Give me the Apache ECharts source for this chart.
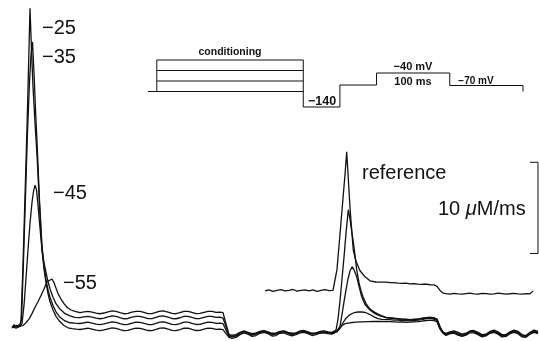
<!DOCTYPE html>
<html>
<head>
<meta charset="utf-8">
<script src="https://cdn.jsdelivr.net/npm/echarts/dist/echarts.min.js"></script>
<style>
  html, body { margin: 0; padding: 0; background: #fff; }
  #chart { width: 539px; height: 341px; }
</style>
</head>
<body>
<div id="chart"></div>
<script>
// Ca2+ release flux (µM/ms) vs time (ms). Time 0 = start of the conditioning pulse.

// ---- conditioning-pulse traces: rise and peak, [ms, µM/ms] ----
const onset25 = [[-8,0.0],[-6,0.4],[-4,0.1],[-2,0.3],[0,0.3],[1,0.8],[3,7],[5,14.5],[7,22],[8.5,28.5],[10,35.1],[11.5,30.5],[13,26.5],[15,22.5],[17,19],[19.5,13.5],[22,8.6],[24,6.5],[26,5.0],[28,3.8],[30,2.9],[33,2.0],[36,1.3],[40,0.7],[44,0.3],[48,0.05],[52,-0.05],[56,-0.1]];
const onset35 = [[-8,0.1],[-6,0.3],[-4,0.2],[-2,0.2],[0,0.4],[1.5,1.0],[3.5,7.5],[5.5,14.5],[7.5,21.5],[9.5,27],[11,30],[12.5,31.4],[14,28],[15.5,24],[17,20.5],[19.5,14],[22,9],[24,6.8],[26,5.3],[28,4.2],[30,3.4],[33,2.5],[36,1.8],[40,1.2],[45,0.8],[50,0.6],[55,0.55]];
const onset45 = [[-8,0.2],[-6,0.3],[-4,0.0],[-2,0.2],[0,0.2],[2,0.5],[4,2.5],[6,5.5],[8,8.6],[10,11.5],[12,13.8],[13.5,15.0],[15,15.7],[16.5,15.2],[18,13.5],[20,11],[22,8.6],[24,7.2],[27,5.6],[30,4.3],[33,3.4],[36,2.7],[40,2.1],[45,1.6],[50,1.35],[55,1.2]];
const onset55 = [[-8,0.1],[-6,0.2],[-4,0.3],[-2,0.1],[0,0.2],[3,0.3],[6,0.6],[9,1.0],[12,1.6],[15,2.3],[18,2.9],[21,3.6],[24,4.3],[27,5.1],[29,5.3],[32,5.4],[34,5.0],[36,4.4],[38,3.8],[41,3.2],[44,2.7],[47,2.3],[51,2.0],[55,1.85]];

// ---- steady level during the conditioning pulse ----
const plateauTimes = [60,64,68,72,76,80,84,88,92,96,100,104,108,112,116,120,124,128,132,136,140,144,148,152,156,160,164,168,172,176,180,184,188,192,196,200];
const plateau25 = [-0.14,-0.06,0.0,-0.09,-0.2,-0.27,-0.19,-0.06,0.04,-0.02,-0.15,-0.27,-0.24,-0.1,0.0,-0.02,-0.12,-0.25,-0.26,-0.13,0.02,0.03,-0.1,-0.24,-0.27,-0.16,0.0,0.0,-0.13,-0.25,-0.24,-0.11,0.0,-0.02,-0.12,-0.09];
const plateau35 = [0.52,0.6,0.66,0.57,0.46,0.39,0.47,0.6,0.70,0.64,0.51,0.39,0.42,0.56,0.66,0.64,0.54,0.41,0.40,0.53,0.68,0.69,0.56,0.42,0.39,0.5,0.66,0.66,0.53,0.41,0.42,0.55,0.66,0.64,0.54,0.57];
const plateau45 = [1.17,1.25,1.31,1.22,1.11,1.04,1.12,1.25,1.35,1.29,1.16,1.04,1.07,1.21,1.31,1.29,1.19,1.06,1.05,1.18,1.33,1.34,1.21,1.07,1.04,1.15,1.31,1.31,1.18,1.06,1.07,1.2,1.31,1.29,1.19,1.22];
const plateau55 = [1.72,1.8,1.86,1.77,1.66,1.59,1.67,1.8,1.90,1.84,1.71,1.59,1.62,1.76,1.86,1.84,1.74,1.61,1.60,1.73,1.88,1.89,1.76,1.62,1.59,1.70,1.86,1.86,1.73,1.61,1.62,1.75,1.86,1.84,1.74,1.77];

// ---- end of conditioning pulse ----
const off25 = [[203,-0.15],[206,-0.6],[209,-1.0]];
const off35 = [[203,0.5],[206,-0.2],[209,-0.9]];
const off45 = [[203,1.1],[206,0.2],[209,-0.8]];
const off55 = [[203,1.7],[206,0.5],[209,-0.7]];

// ---- interval between conditioning and test pulses ----
const gapTimes = [212,216,220,224,228,232,236,240,244,248,252,256,260,264,268,272,276,280,284,288,292,296,300,304,308,312];
const gap25 = [-1.1,-1.0,-0.7,-0.5,-0.65,-0.9,-0.8,-0.55,-0.45,-0.6,-0.85,-0.8,-0.55,-0.5,-0.7,-0.85,-0.7,-0.5,-0.45,-0.6,-0.8,-0.7,-0.55,-0.5,-0.6,-0.65];
const gap35 = [-0.95,-0.85,-0.55,-0.4,-0.55,-0.75,-0.65,-0.45,-0.35,-0.5,-0.7,-0.65,-0.45,-0.4,-0.55,-0.7,-0.6,-0.4,-0.35,-0.5,-0.65,-0.6,-0.45,-0.4,-0.5,-0.55];
const gap45 = [-0.85,-0.8,-0.5,-0.35,-0.5,-0.7,-0.6,-0.4,-0.3,-0.45,-0.65,-0.6,-0.4,-0.35,-0.5,-0.65,-0.55,-0.35,-0.3,-0.45,-0.6,-0.55,-0.4,-0.35,-0.45,-0.5];
const gap55 = [-0.75,-0.7,-0.45,-0.3,-0.45,-0.6,-0.5,-0.35,-0.25,-0.4,-0.55,-0.5,-0.35,-0.3,-0.45,-0.55,-0.5,-0.3,-0.25,-0.4,-0.55,-0.5,-0.35,-0.3,-0.4,-0.45];

// ---- release during the -40 mV test pulse ----
const test25 = [[314,-0.5],[316,-0.4],[319,-0.1],[322,0.3],[325,0.5],[330,0.6],[336,0.66],[342,0.7],[348,0.72],[354,0.74],[360,0.74],[366,0.73]];
const test35 = [[314,-0.5],[317,-0.4],[320,0.0],[323,0.6],[326,1.1],[330,1.5],[334,1.7],[338,1.78],[342,1.78],[346,1.7],[350,1.5],[354,1.25],[358,1.05],[362,0.98],[366,0.95]];
const test45 = [[314,-0.45],[317,-0.3],[320,0.2],[322,1.5],[324,2.9],[326,4.2],[328,5.4],[330,6.3],[332.3,6.75],[334,6.4],[336.7,5.65],[339,4.6],[341.7,3.45],[345,2.6],[350,2.0],[355,1.6],[360,1.35],[366,1.15]];
const test55 = [[314,-0.4],[316,-0.2],[318,1.0],[320,3.0],[322,5.4],[324,7.8],[326,10.4],[328.3,13.0],[330,12.0],[331.5,10.8],[333,9.7],[335,8.0],[336.7,6.4],[339,5.0],[341,4.1],[343,3.45],[346,2.7],[350,2.1],[354,1.8],[358,1.55],[362,1.35],[366,1.2]];

const testPlateauTimes = [370,374,378,382,386,390,394,398,402,406,410,414];
const testPlateau25 = [0.72,0.7,0.68,0.7,0.65,0.66,0.7,0.72,0.78,0.85,0.9,0.85];
const testPlateau35 = [0.95,0.9,0.9,0.85,0.85,0.8,0.85,0.9,0.95,1.05,1.1,1.0];
const testPlateau45 = [1.1,1.05,1.0,1.0,0.95,0.9,0.95,1.0,1.05,1.15,1.2,1.1];
const testPlateau55 = [1.15,1.1,1.05,1.0,1.0,0.95,1.0,1.0,1.1,1.15,1.2,1.15];

const testOff25 = [[417,0.7],[420,-0.1],[423,-0.55]];
const testOff35 = [[417,0.85],[420,0.0],[423,-0.4]];
const testOff45 = [[417,0.95],[420,0.1],[423,-0.45]];
const testOff55 = [[417,1.0],[420,0.2],[423,-0.5]];

// ---- after the test pulse (-70 mV) ----
const tailTimes = [426,430,434,438,442,446,450,454,458,462,466,470,474,478,482,486,490,494,498,502,506,510,514,518];
const tail25 = [-0.8,-0.6,-0.55,-0.75,-0.9,-0.75,-0.5,-0.5,-0.7,-0.95,-0.85,-0.55,-0.45,-0.65,-0.95,-0.9,-0.6,-0.45,-0.6,-0.95,-1.0,-0.65,-0.45,-0.6];
const tail35 = [-0.65,-0.45,-0.4,-0.6,-0.75,-0.6,-0.35,-0.35,-0.55,-0.8,-0.7,-0.4,-0.3,-0.5,-0.8,-0.75,-0.45,-0.3,-0.45,-0.8,-0.85,-0.5,-0.3,-0.45];
const tail45 = [-0.55,-0.4,-0.3,-0.45,-0.65,-0.55,-0.3,-0.25,-0.45,-0.7,-0.65,-0.35,-0.2,-0.4,-0.7,-0.7,-0.4,-0.2,-0.35,-0.7,-0.8,-0.45,-0.2,-0.35];
const tail55 = [-0.7,-0.5,-0.45,-0.65,-0.8,-0.65,-0.4,-0.4,-0.6,-0.85,-0.75,-0.45,-0.35,-0.55,-0.85,-0.8,-0.5,-0.35,-0.5,-0.85,-0.9,-0.55,-0.35,-0.5];

// ---- reference: test pulse without conditioning (drawn shifted up) ----
const refShift = 4.15;
const refBaseTimes = [245,249,253,257,261,265,269,273,277,281,285,289,293,297,301,305,309,313];
const refBase = [-0.05,0.05,-0.1,0.0,0.08,-0.05,0.0,0.1,-0.08,0.0,0.06,-0.05,0.05,-0.1,0.0,0.08,-0.02,0.0];
const refPeak = [[315,0.2],[317,2.3],[319,4.9],[321,7.5],[323,10.1],[325,12.7],[326.7,15.2],[328,12.8],[330,9.1],[331.7,6.6],[333.3,4.4],[336,3.2],[340,2.15],[345,1.5],[350,1.05],[356,0.92],[362,0.9]];
const refPlateauTimes = [366,370,374,378,382,386,390,394,398,402,406,410,414];
const refPlateau = [0.9,0.85,0.86,0.8,0.78,0.8,0.72,0.74,0.68,0.65,0.7,0.62,0.6];
const refOff = [[417,0.45],[420,0.0],[423,-0.3]];
const refTailTimes = [426,430,434,438,442,446,450,454,458,462,466,470,474,478,482,486,490,494,498,502,506,510];
const refTail = [-0.35,-0.4,-0.32,-0.38,-0.42,-0.35,-0.3,-0.38,-0.4,-0.33,-0.36,-0.42,-0.38,-0.3,-0.35,-0.4,-0.37,-0.33,-0.38,-0.4,-0.35,-0.38];
const refEnd = [[513,-0.05]];

// ---- calibration bar ----
const scaleBarValue = 10;     // µM/ms
const scaleBarBase = 8.2;     // µM/ms, lower end of the bar
const scaleBarTime = 518;     // ms
const scaleBarTick = 8;       // ms

// ---- pulse protocol (schematic heights, not to voltage scale) ----
const protoTimes  = [0, 12, 12, 212, 212, 262, 262, 312, 312, 412, 412, 512, 512];
const protoLevels = [0, 0, 31.5, 31.5, -15.5, -15.5, 6.5, 6.5, 18.5, 18.5, 6, 6, 0];
const condLevels = [21, 10.5, 0];   // inner conditioning steps
const condStart = 12, condEnd = 212;

// labels
const condLabels = ['−25', '−35', '−45', '−55'];

function zip(t, v) { return t.map((x, i) => [x, v[i]]); }
function trace(parts) { return [].concat(...parts); }

const cond25 = trace([onset25, zip(plateauTimes, plateau25), off25, zip(gapTimes, gap25), test25, zip(testPlateauTimes, testPlateau25), testOff25, zip(tailTimes, tail25)]);
const cond35 = trace([onset35, zip(plateauTimes, plateau35), off35, zip(gapTimes, gap35), test35, zip(testPlateauTimes, testPlateau35), testOff35, zip(tailTimes, tail35)]);
const cond45 = trace([onset45, zip(plateauTimes, plateau45), off45, zip(gapTimes, gap45), test45, zip(testPlateauTimes, testPlateau45), testOff45, zip(tailTimes, tail45)]);
const cond55 = trace([onset55, zip(plateauTimes, plateau55), off55, zip(gapTimes, gap55), test55, zip(testPlateauTimes, testPlateau55), testOff55, zip(tailTimes, tail55)]);
const reference = trace([zip(refBaseTimes, refBase), refPeak, zip(refPlateauTimes, refPlateau), refOff, zip(refTailTimes, refTail), refEnd])
  .map(p => [p[0], p[1] + refShift]);

const scaleBar = [
  [scaleBarTime - scaleBarTick, scaleBarBase + scaleBarValue],
  [scaleBarTime, scaleBarBase + scaleBarValue],
  [scaleBarTime, scaleBarBase],
  [scaleBarTime - scaleBarTick, scaleBarBase]
];

const protocol = zip(protoTimes, protoLevels);

const INK = '#111';
const FONT = '"Liberation Sans", Arial, Helvetica, sans-serif';

function traceSeries(name, data, grid) {
  return {
    name, type: 'line', data,
    xAxisIndex: grid, yAxisIndex: grid,
    symbol: 'none', clip: false, animation: false,
    lineStyle: { color: INK, width: 1.3 },
    z: 2
  };
}

const series = [
  traceSeries(condLabels[0], cond25, 0),
  traceSeries(condLabels[1], cond35, 0),
  traceSeries(condLabels[2], cond45, 0),
  traceSeries(condLabels[3], cond55, 0),
  traceSeries('reference', reference, 0),
  Object.assign(traceSeries('scale', scaleBar, 0), { lineStyle: { color: INK, width: 1 } }),
  Object.assign(traceSeries('protocol', protocol, 1), { lineStyle: { color: INK, width: 1 } })
];
condLevels.forEach((lv, i) => {
  series.push(Object.assign(traceSeries('step' + i, [[condStart, lv], [condEnd, lv]], 1), { lineStyle: { color: INK, width: 1 } }));
});

function label(text, x, y, font, align) {
  return {
    type: 'text', silent: true,
    style: {
      text, x, y, fill: INK,
      font: font + ' ' + FONT,
      textAlign: align || 'left', textVerticalAlign: 'middle'
    }
  };
}

const chart = echarts.init(document.getElementById('chart'), null, { renderer: 'canvas' });
chart.setOption({
  animation: false,
  backgroundColor: '#fff',
  grid: [
    { left: 10, right: 0, top: 0, bottom: 0 },
    { left: 148, top: 60, width: 375, height: 47 }
  ],
  xAxis: [
    { type: 'value', min: -10, max: 519, show: false, gridIndex: 0 },
    { type: 'value', min: 0, max: 512, show: false, gridIndex: 1 }
  ],
  yAxis: [
    { type: 'value', min: -1.4, max: 36, show: false, gridIndex: 0 },
    { type: 'value', min: -15.5, max: 31.5, show: false, gridIndex: 1 }
  ],
  series,
  graphic: [
    label(condLabels[0], 42, 28, '20px'),
    label(condLabels[1], 42, 57, '20px'),
    label(condLabels[2], 53, 193, '20px'),
    label(condLabels[3], 63, 283, '20px'),
    label('reference', 362, 173, '20px'),
    {
      type: 'text', silent: true,
      style: {
        text: '10 {i|μ}M/ms', x: 438, y: 209, fill: INK,
        font: '20px ' + FONT, textAlign: 'left', textVerticalAlign: 'middle',
        rich: { i: { fontStyle: 'italic', fontSize: 20, fontFamily: FONT, fill: INK } }
      }
    },
    label('conditioning', 230, 52, 'bold 10.5px', 'center'),
    label('−40 mV', 413, 67, 'bold 11px', 'center'),
    label('100 ms', 413, 82, 'bold 11px', 'center'),
    label('−70 mV', 476, 81, 'bold 10px', 'center'),
    label('−140', 322, 102, 'bold 12.5px', 'center')
  ]
});
</script>
</body>
</html>
